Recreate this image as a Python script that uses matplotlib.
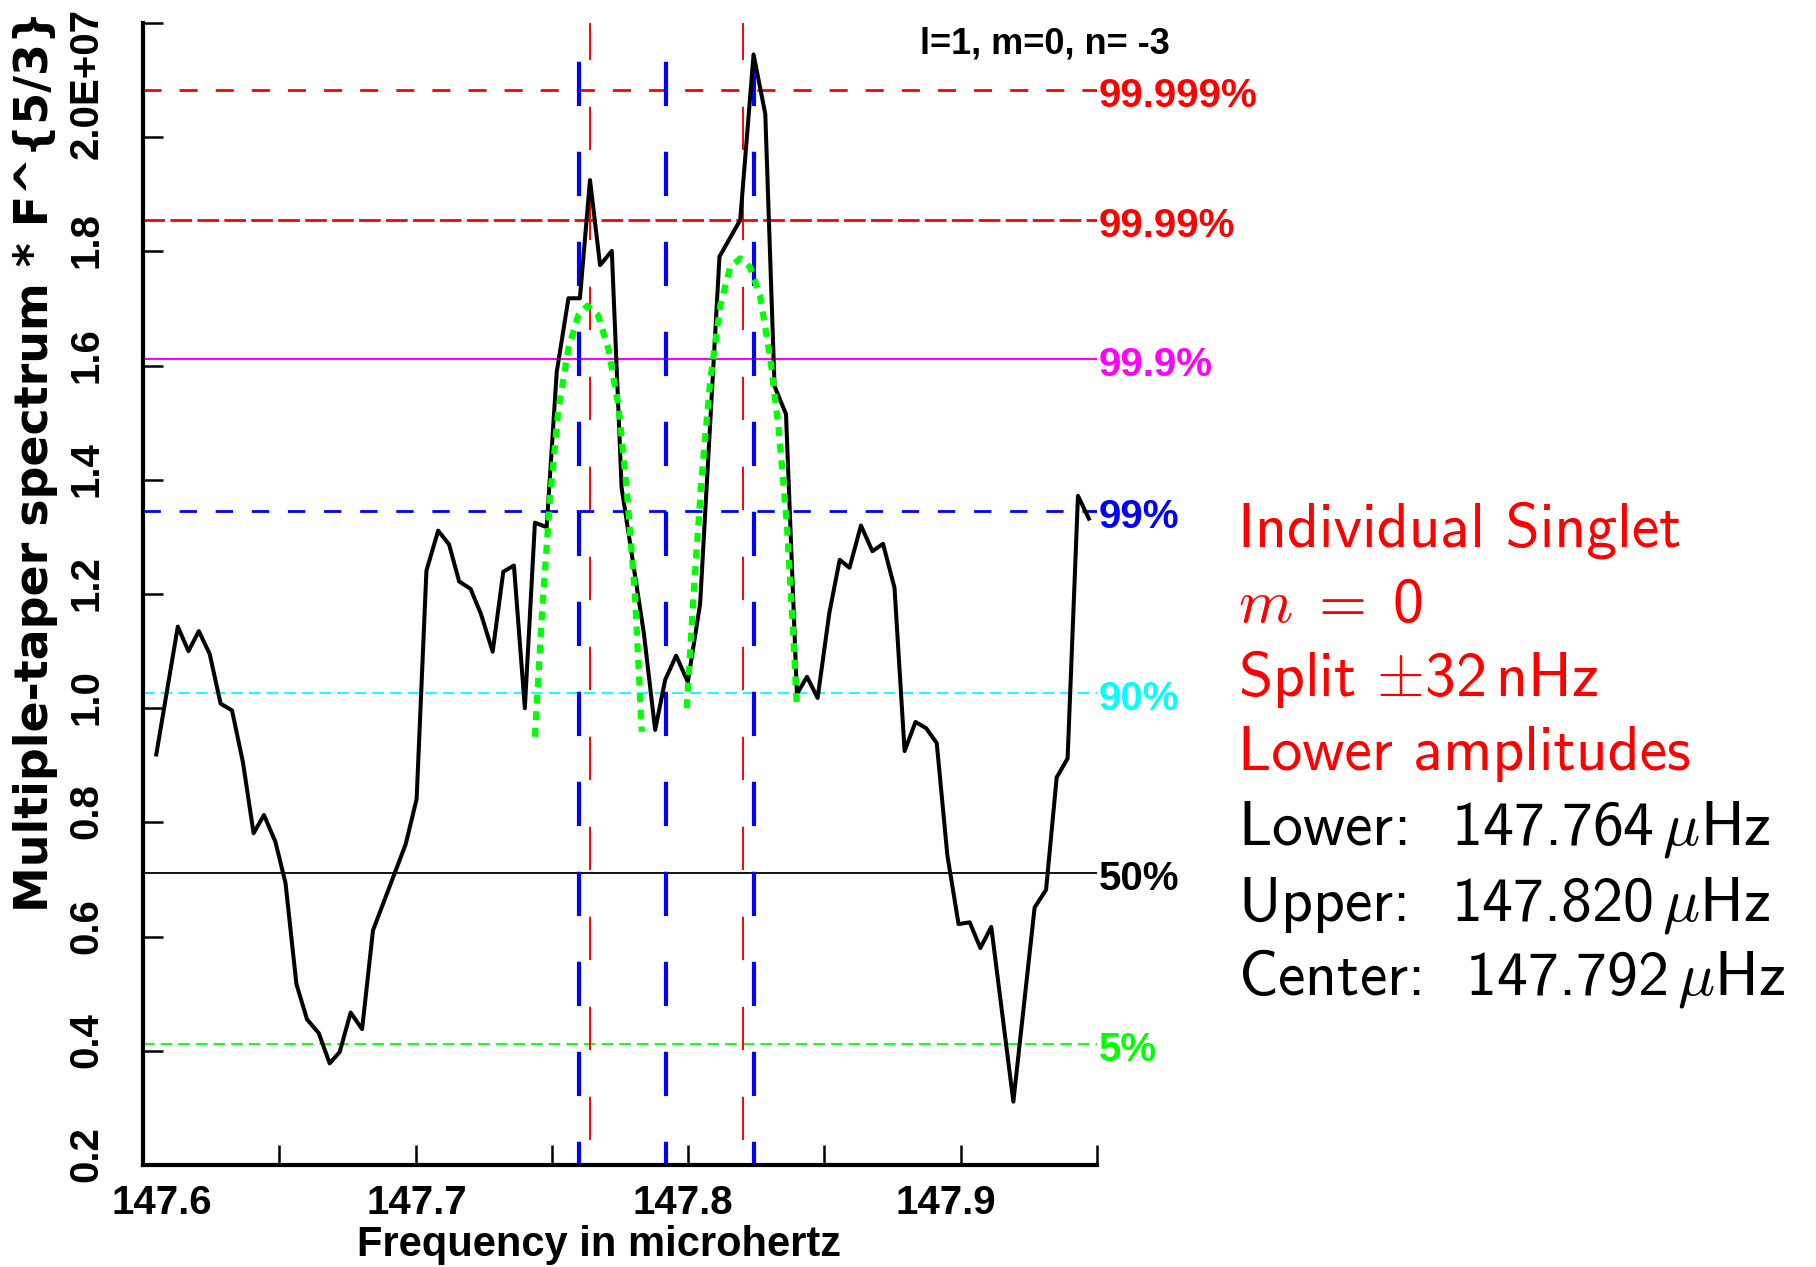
import numpy as np
import matplotlib
matplotlib.use("Agg")
import matplotlib.pyplot as plt
from matplotlib.transforms import blended_transform_factory, ScaledTranslation

plt.rcParams['mathtext.fontset'] = 'cm'
plt.rcParams['lines.scale_dashes'] = False

# multiple-taper spectrum * F^{5/3}, in units of 1e7
freq = [147.6049, 147.6128, 147.6167, 147.6205, 147.6245, 147.6285, 147.6327, 147.6367,
        147.6406, 147.6444, 147.6486, 147.6523, 147.6563, 147.6602, 147.6645, 147.6685,
        147.6722, 147.6762, 147.6804, 147.6844, 147.6964, 147.7004, 147.7040, 147.7083,
        147.7123, 147.7160, 147.7202, 147.7240, 147.7283, 147.7322, 147.7361, 147.7401,
        147.7438, 147.7481, 147.7518, 147.7561, 147.7603, 147.7640, 147.7677, 147.7720,
        147.7756, 147.7838, 147.7879, 147.7916, 147.7956, 147.7999, 147.8044, 147.8115,
        147.8191, 147.8240, 147.8283, 147.8317, 147.8359, 147.8399, 147.8436, 147.8475,
        147.8518, 147.8556, 147.8592, 147.8634, 147.8676, 147.8715, 147.8757, 147.8794,
        147.8834, 147.8873, 147.8912, 147.8951, 147.8992, 147.9033, 147.9072, 147.9112,
        147.9193, 147.9271, 147.9313, 147.9352, 147.9392, 147.9430, 147.9470]
power = [0.919, 1.143, 1.100, 1.135, 1.095, 1.008, 0.996, 0.905,
         0.781, 0.813, 0.766, 0.694, 0.517, 0.455, 0.431, 0.378,
         0.398, 0.467, 0.438, 0.611, 0.762, 0.841, 1.241, 1.311,
         1.287, 1.222, 1.209, 1.165, 1.099, 1.239, 1.250, 1.000,
         1.325, 1.317, 1.589, 1.718, 1.718, 1.925, 1.776, 1.801,
         1.386, 1.130, 0.962, 1.050, 1.092, 1.046, 1.183, 1.791,
         1.855, 2.145, 2.041, 1.564, 1.515, 1.025, 1.055, 1.018,
         1.167, 1.260, 1.246, 1.320, 1.275, 1.288, 1.211, 0.925,
         0.976, 0.965, 0.939, 0.742, 0.622, 0.625, 0.580, 0.617,
         0.311, 0.651, 0.682, 0.879, 0.912, 1.372, 1.332]

# fitted profiles (green dotted)
fit_lo_f = [147.7438, 147.7463, 147.7493, 147.7524, 147.7561, 147.7597, 147.7631,
            147.7670, 147.7707, 147.7744, 147.7775, 147.7805, 147.7830]
fit_lo_p = [0.950, 1.158, 1.365, 1.523, 1.630, 1.688, 1.705,
            1.688, 1.630, 1.531, 1.382, 1.199, 0.959]
fit_hi_f = [147.7995, 147.8020, 147.8050, 147.8081, 147.8118, 147.8154, 147.8191,
            147.8228, 147.8264, 147.8301, 147.8332, 147.8362, 147.8387, 147.8399]
fit_hi_p = [1.000, 1.199, 1.407, 1.573, 1.705, 1.772, 1.788,
            1.772, 1.722, 1.614, 1.490, 1.324, 1.117, 1.000]

# significance levels
levels = [2.083, 1.855, 1.611, 1.345, 1.026, 0.712, 0.412]
level_names = ['99.999%', '99.99%', '99.9%', '99%', '90%', '50%', '5%']
level_colors = ['#ff0000', '#ff0000', '#ff00ff', '#0000ff', '#00ffff', 'black', '#00ff00']
level_styles = [(0, (13, 13)), (0, (15.6, 3.8)), '-', (0, (12.5, 13.5)),
                (0, (8.4, 4.3)), '-', (0, (8.4, 4.3))]
level_widths = [2.0, 2.0, 1.5, 2.0, 1.3, 1.3, 1.3]

# singlet frequencies and split markers
singlets = [147.764, 147.820]
splits = [147.760, 147.792, 147.824]

xticks = [147.6, 147.7, 147.8, 147.9]
xminor = [147.65, 147.75, 147.85, 147.95]
yticks = [0.2, 0.4, 0.6, 0.8, 1.0, 1.2, 1.4, 1.6, 1.8, 2.0, 2.2]
ylabels = ['0.2', '0.4', '0.6', '0.8', '1.0', '1.2', '1.4', '1.6', '1.8', '2.0E+07', '']

xlim = (147.6, 147.95)
ylim = (0.2, 2.2)

fig = plt.figure(figsize=(18.16, 12.67), dpi=100)
ax = fig.add_axes([0.0787, 0.0805, 0.5254, 0.9013])
ax.set_xlim(*xlim)
ax.set_ylim(*ylim)

for lev, c, ls, lw in zip(levels, level_colors, level_styles, level_widths):
    ax.axhline(lev, color=c, linestyle=ls, lw=lw, zorder=1)

for f in singlets:
    ax.plot([f, f], [ylim[1], ylim[0]], color='#ff0000', lw=1.4,
            linestyle=(4.5, (31.2, 33.6)), zorder=2)
for f in splits:
    ax.plot([f, f], [ylim[1], ylim[0]], color='#0000ff', lw=3.0,
            linestyle=(36.9, (31.9, 32.9)), zorder=2)

ax.plot(freq, power, color='black', lw=2.9, zorder=3)
for fx, fy in [(fit_lo_f, fit_lo_p), (fit_hi_f, fit_hi_p)]:
    ax.plot(fx, fy, color='#00ff00', lw=4.5, linestyle=(0, (6.5, 5.5)),
            dash_capstyle='butt', zorder=4)

for s in ['top', 'right']:
    ax.spines[s].set_visible(False)
for s in ['left', 'bottom']:
    ax.spines[s].set_linewidth(3.0)

tickfont = dict(family='Liberation Sans', weight='bold', size=29)
ax.set_xticks(xticks)
ax.set_xticks(xminor, minor=True)
ax.set_xticklabels([f'{v:.1f}' for v in xticks], **tickfont)
ax.set_yticks(yticks)
ax.set_yticklabels(ylabels, rotation=90, va='center', **tickfont)
ax.tick_params(axis='both', which='both', direction='in', length=14.5, width=1.8)
ax.tick_params(axis='x', pad=14)
ax.tick_params(axis='y', pad=27)

# nudge tick labels to where the original software put them
for lab, dx in zip(ax.get_xticklabels(), [0.19, 0.01, -0.05, -0.15]):
    lab.set_transform(lab.get_transform() + ScaledTranslation(dx, 0, fig.dpi_scale_trans))
for i, lab in enumerate(ax.get_yticklabels()):
    dy = 0.54 if i == 9 else 0.11
    lab.set_transform(lab.get_transform() + ScaledTranslation(0, dy, fig.dpi_scale_trans))

ax.set_xlabel('Frequency in microhertz', family='Liberation Sans', weight='bold', size=30)
ax.xaxis.set_label_coords(0.478, -0.080)
ax.xaxis.label.set_va('baseline')
ax.set_ylabel('Multiple-taper spectrum * F^{5/3}', family='DejaVu Sans', weight='bold', size=33)
ax.yaxis.set_label_coords(-0.113, 0.6165)
ax.yaxis.label.set_va('center')

trans = blended_transform_factory(ax.transAxes, ax.transData)
for lev, name, c in zip(levels, level_names, level_colors):
    ax.annotate(name, xy=(1.002, lev), xycoords=trans, xytext=(0, -4.3),
                textcoords='offset points', ha='left', va='center', color=c,
                family='Liberation Sans', weight='bold', size=29, annotation_clip=False)

fig.text(1045 / 1816, 1 - 44 / 1267, 'l=1, m=0, n= -3', ha='center', va='center',
         family='Liberation Sans', weight='bold', size=26)

info_lines = ['Individual Singlet', '$m\\;=\\;$0', 'Split $\\pm$32$\\,$nHz', 'Lower amplitudes',
              'Lower:  147.764$\\,\\mu$Hz', 'Upper:  147.820$\\,\\mu$Hz',
              'Center:  147.792$\\,\\mu$Hz']
info_colors = ['#ff0000'] * 4 + ['black'] * 3
info_base = [547, 622, 696, 770, 844, 920, 994]
for txt, c, yb in zip(info_lines, info_colors, info_base):
    fig.text(1238 / 1816, 1 - yb / 1267, txt, ha='left', va='baseline', color=c,
             family='cmss10', size=44.5)

fig.savefig('out.png', dpi=100)
